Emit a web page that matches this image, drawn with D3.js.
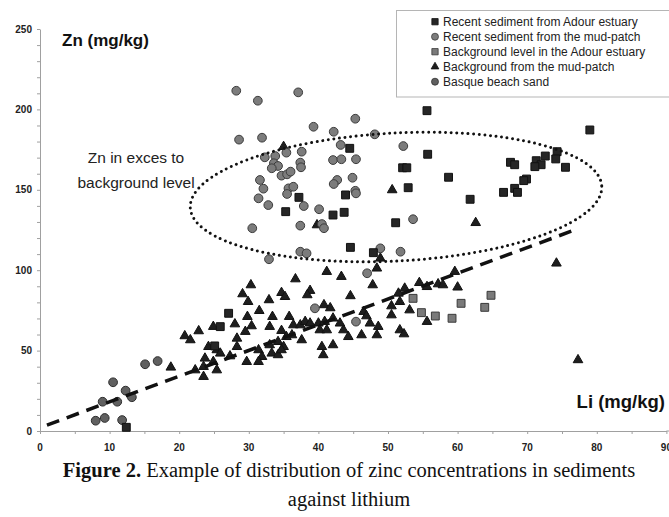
<!DOCTYPE html>
<html><head><meta charset="utf-8">
<script src="https://cdn.jsdelivr.net/npm/d3@7"></script>
<style>
html,body{margin:0;padding:0;background:#fff;}
svg{display:block;}
</style></head><body>
<svg id="chart" width="669" height="517"></svg>
<script>
// Each point: [Li (mg/kg), Zn (mg/kg)]
const recentAdour = [
  [12.4,2.3],[27.1,73.2],[25.9,64.9],[25.1,52.9],[44.5,175.8],[37.2,145.3],[43.9,146.8],
  [35.3,136.4],[42.1,134.3],[43.7,136.0],[44.6,114.2],[47.9,110.9],[51.1,129.5],[55.6,199.2],
  [79.0,187.2],[55.7,172.1],[52.1,163.7],[52.7,163.7],[58.7,157.8],[52.9,151.3],[61.8,144.1],
  [67.6,167.1],[68.2,165.6],[71.3,168.1],[72.6,171.0],[74.3,173.7],[74.1,169.2],[72.0,165.6],
  [71.1,164.4],[75.5,164.0],[69.9,156.7],[69.5,155.7],[68.2,150.9],[68.6,148.4],[66.6,148.4]
];
const recentMudPatch = [
  [28.2,211.6],[31.3,205.4],[37.1,210.6],[39.3,189.2],[45.3,194.2],[42.2,186.1],[28.6,181.2],
  [31.9,182.4],[48.1,184.5],[43.2,177.9],[37.6,173.7],[32.3,170.2],[33.8,171.0],[35.4,173.1],
  [33.6,166.5],[34.2,164.8],[33.3,163.4],[37.4,166.9],[37.5,164.0],[42.1,168.5],[43.3,169.0],
  [45.4,169.0],[34.7,158.8],[35.5,159.6],[36.0,161.3],[31.6,156.1],[32.1,150.7],[42.7,156.1],
  [42.2,153.6],[44.9,157.5],[35.7,150.9],[36.4,151.9],[35.5,147.4],[45.3,149.4],[45.4,147.8],
  [31.4,144.7],[32.8,140.5],[37.9,139.9],[40.1,137.9],[37.4,127.7],[30.5,126.1],[40.5,128.7],
  [40.8,126.1],[52.2,177.2],[53.6,131.7],[51.8,111.5],[48.9,113.6],[32.9,106.8],[37.4,111.5],
  [38.3,110.5],[39.5,76.3],[45.4,68.0],[47.0,98.1]
];
const backgroundAdour = [
  [53.6,82.5],[54.8,73.6],[56.8,71.5],[59.2,70.1],[60.5,79.4],[63.9,76.9],[64.8,84.4]
];
const backgroundMudPatch = [
  [18.8,39.6],[20.8,59.1],[21.6,56.6],[22.8,62.2],[24.9,64.9],[24.2,52.4],[25.4,50.4],
  [25.9,48.3],[23.7,45.2],[24.9,43.1],[23.5,40.0],[22.3,37.9],[25.4,37.9],[23.5,33.8],
  [36.7,94.5],[41.2,99.1],[30.3,90.8],[29.1,85.2],[29.9,80.4],[32.9,81.5],[34.7,86.0],
  [35.2,83.5],[38.8,87.3],[38.4,84.6],[31.5,74.8],[29.8,71.1],[33.4,71.1],[35.8,71.1],
  [40.8,78.4],[28.0,66.5],[30.4,65.3],[33.0,64.9],[34.7,62.4],[29.5,61.8],[36.4,65.9],
  [37.4,65.9],[38.1,68.0],[38.8,67.0],[40.0,67.0],[40.9,68.0],[37.6,56.6],[36.2,59.7],
  [35.4,58.6],[40.2,62.8],[41.2,62.8],[28.3,57.6],[28.3,52.4],[31.4,50.4],[33.0,53.5],
  [34.2,55.5],[35.0,52.4],[31.9,46.2],[33.3,48.3],[34.2,47.3],[34.7,50.4],[29.7,43.1],
  [31.4,43.1],[40.5,52.4],[40.7,47.3],[27.3,46.6],[35.0,176.8],[39.8,128.1],
  [43.3,96.0],[44.6,84.0],[41.7,76.5],[46.5,74.2],[46.9,71.5],[47.4,67.0],[46.2,59.7],
  [43.6,62.8],[43.1,67.0],[42.1,70.1],[42.1,53.5],[44.3,58.6],
  [48.9,107.4],[48.4,101.2],[47.8,90.8],[48.6,64.9],[48.4,59.7],[51.5,85.6],[51.7,80.4],
  [50.5,77.7],[50.5,72.1],[52.4,88.7],[53.1,75.2],[54.5,92.2],[55.6,89.7],[57.2,91.4],
  [57.9,90.8],[55.6,68.0],[59.6,99.1],[60.0,89.4],[51.7,62.8],[52.3,60.3],[74.2,104.3],
  [77.3,44.2],[50.6,149.9],[62.6,129.5]
];
const beachSand = [
  [8.0,6.4],[9.3,8.1],[10.5,30.3],[9.0,18.2],[11.1,18.2],[12.3,25.1],[13.2,21.0],
  [15.1,41.5],[16.9,43.5],[11.8,6.8]
];

const liTicks = d3.range(0, 91, 10);
const znTicks = d3.range(0, 251, 50);
const legendLabels = [
  "Recent sediment from Adour estuary",
  "Recent sediment from the mud-patch",
  "Background level in the Adour estuary",
  "Background from the mud-patch",
  "Basque beach sand"
];
// Background trend line Zn = slope * Li + intercept
const trendSlope = 1.6, trendIntercept = 2.1, trendLi = [1, 76.4];
// Zone of zinc in excess: centre and half-axes in data units
const zoneCentre = [51.15, 145.5], zoneHalf = [29.6, 39.8];

const svg = d3.select("#chart");
const x = d3.scaleLinear().domain([0, 90]).range([40, 666.4]);
const y = d3.scaleLinear().domain([0, 250]).range([431, 29]);

const axisColor = "#a0a0a0";
const tickFont = "'Liberation Sans Narrow','Arial Narrow','Liberation Sans',Arial,sans-serif";

// y axis: major ticks every 50, minor every 10
const gy = svg.append("g").attr("transform", `translate(${x(0)},0)`);
gy.call(d3.axisLeft(y).tickValues(d3.range(0, 251, 10)).tickSize(3).tickSizeOuter(0).tickFormat(""));
gy.selectAll("path,line").attr("stroke", axisColor);
svg.append("g").selectAll("text").data(znTicks).join("text")
  .attr("x", 32).attr("y", d => y(d)).attr("dy", "0.35em")
  .attr("text-anchor", "end")
  .style("font", `bold 10px ${tickFont}`).attr("fill", "#222")
  .text(d => d);

// x axis: ticks every 5, labelled every 10
const gx = svg.append("g").attr("transform", `translate(0,${y(0)})`);
gx.call(d3.axisBottom(x).tickValues(d3.range(0, 91, 5)).tickSize(3).tickSizeOuter(0).tickFormat(""));
gx.selectAll("path,line").attr("stroke", axisColor);
gx.append("line").attr("x1", x(90)).attr("x2", 669).attr("stroke", axisColor);
svg.append("g").selectAll("text").data(liTicks).join("text")
  .attr("x", d => x(d)).attr("y", 451)
  .attr("text-anchor", "middle")
  .style("font", `bold 10px ${tickFont}`).attr("fill", "#222")
  .text(d => d);

// markers
const sym = (type, size) => d3.symbol().type(type).size(size)();
const styles = {
  adour: {d: sym(d3.symbolSquare, 62), fill: "#262626", stroke: "#111"},
  mud: {d: sym(d3.symbolCircle, 60), fill: "#7c7c7c", stroke: "#3c3c3c"},
  bgAdour: {d: sym(d3.symbolSquare, 62), fill: "#7a7a7a", stroke: "#3a3a3a"},
  bgMud: {d: sym(d3.symbolTriangle, 40), fill: "#1e1e1e", stroke: "#111"},
  sand: {d: sym(d3.symbolCircle, 60), fill: "#606060", stroke: "#2e2e2e"}
};
function plot(data, st) {
  svg.append("g").selectAll("path").data(data).join("path")
    .attr("d", st.d)
    .attr("transform", d => `translate(${x(d[0])},${y(d[1])})`)
    .attr("fill", st.fill).attr("stroke", st.stroke).attr("stroke-width", 1);
}
plot(backgroundMudPatch, styles.bgMud);
plot(backgroundAdour, styles.bgAdour);
plot(beachSand, styles.sand);
plot(recentMudPatch, styles.mud);
plot(recentAdour, styles.adour);

// background trend (dashed)
svg.append("line")
  .attr("x1", x(trendLi[0])).attr("y1", y(trendSlope * trendLi[0] + trendIntercept))
  .attr("x2", x(trendLi[1])).attr("y2", y(trendSlope * trendLi[1] + trendIntercept))
  .attr("stroke", "#111").attr("stroke-width", 3.5).attr("stroke-dasharray", "13 8");

// zone of zinc in excess (dotted ellipse)
const cx = x(zoneCentre[0]), cy = y(zoneCentre[1]);
svg.append("ellipse")
  .attr("cx", cx).attr("cy", cy)
  .attr("rx", x(zoneCentre[0] + zoneHalf[0]) - cx)
  .attr("ry", y(0) - y(zoneHalf[1]))
  .attr("transform", `rotate(-3,${cx},${cy})`)
  .attr("fill", "none").attr("stroke", "#111").attr("stroke-width", 3)
  .attr("stroke-linecap", "round").attr("stroke-dasharray", "0 5.6");

svg.append("text").attr("x", 136).attr("y", 163).attr("text-anchor", "middle")
  .style("font", "15.5px 'Liberation Sans',Arial,sans-serif").attr("fill", "#222")
  .text("Zn in exces to");
svg.append("text").attr("x", 136).attr("y", 188).attr("text-anchor", "middle")
  .style("font", "15.5px 'Liberation Sans',Arial,sans-serif").attr("fill", "#222")
  .text("background level");

// axis titles
svg.append("text").attr("x", 62).attr("y", 46)
  .style("font", "bold 17px 'Liberation Sans',Arial,sans-serif").attr("fill", "#111")
  .text("Zn (mg/kg)");
svg.append("text").attr("x", 665).attr("y", 408).attr("text-anchor", "end")
  .style("font", "bold 18.5px 'Liberation Sans',Arial,sans-serif").attr("fill", "#111")
  .text("Li (mg/kg)");

// legend
const lg = svg.append("g");
lg.append("rect").attr("x", 396.5).attr("y", 10.5).attr("width", 280).attr("height", 86.5)
  .attr("fill", "#fff").attr("stroke", "#b5b5b5");
const legendStyles = [styles.adour, styles.mud, styles.bgAdour, styles.bgMud, styles.sand];
legendLabels.forEach((t, i) => {
  const yy = 21.7 + i * 15;
  const st = legendStyles[i];
  lg.append("path").attr("d", st.d)
    .attr("transform", `translate(435,${yy}) scale(0.8)`)
    .attr("fill", st.fill).attr("stroke", st.stroke);
  lg.append("text").attr("x", 443).attr("y", yy).attr("dy", "0.35em")
    .style("font", "12px 'Liberation Sans',Arial,sans-serif").attr("fill", "#222")
    .text(t);
});

// caption
const capFont = "20.5px 'Liberation Serif','Times New Roman',serif";
const cap = svg.append("text").attr("x", 349).attr("y", 477).attr("text-anchor", "middle")
  .style("font", capFont).attr("fill", "#111");
cap.append("tspan").attr("font-weight", "bold").text("Figure 2.");
cap.append("tspan").text(" Example of distribution of zinc concentrations in sediments");
svg.append("text").attr("x", 349).attr("y", 506).attr("text-anchor", "middle")
  .style("font", capFont).attr("fill", "#111")
  .text("against lithium");
</script>
</body></html>
